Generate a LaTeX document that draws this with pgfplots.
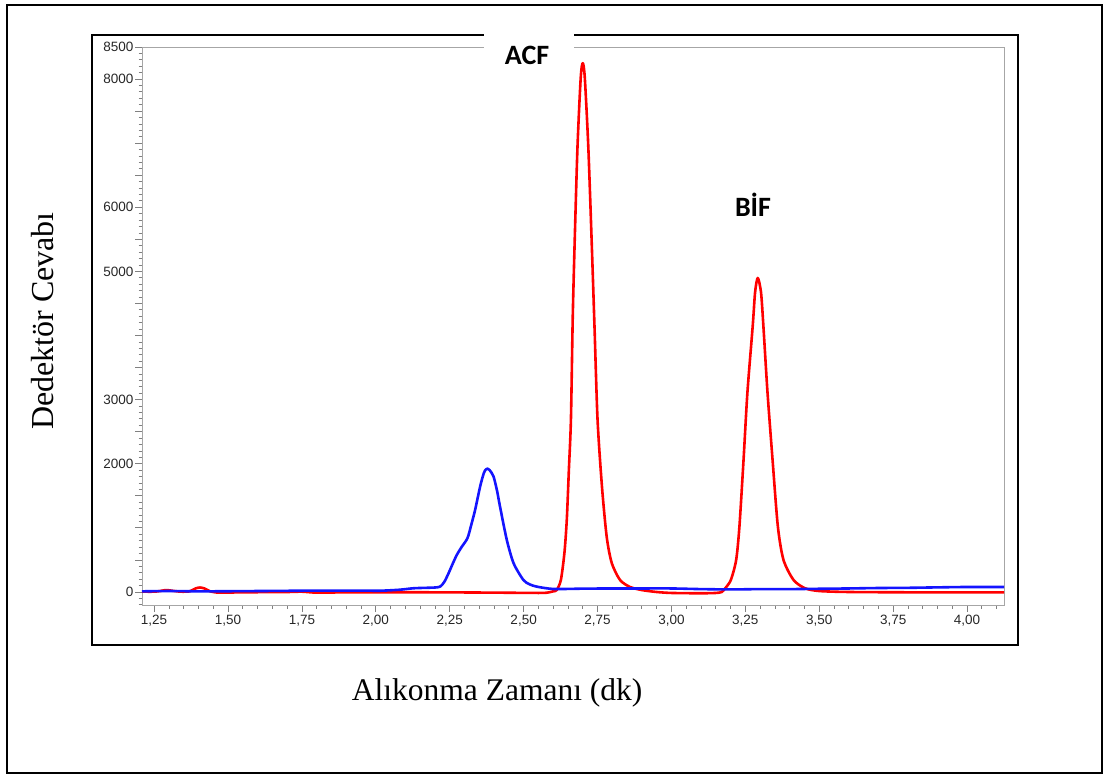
\documentclass[border=0pt]{standalone}
\usepackage{fontspec}
\setmainfont{Liberation Serif}
\newfontfamily\arialf{Liberation Sans}
\newfontfamily\calibrif{Carlito}
\usepackage{pgfplots}
\pgfplotsset{compat=1.18}
\definecolor{cred}{RGB}{255,0,0}
\definecolor{cblue}{RGB}{20,20,255}
\begin{document}
\begin{tikzpicture}
\useasboundingbox (0pt,0pt) rectangle (1104pt,-776pt);
\draw[line width=1.4pt] (7pt,-5pt) rectangle (1102pt,-773pt);
\draw[line width=2pt] (92pt,-35pt) rectangle (1018pt,-645pt);
\begin{axis}[
  anchor=south west, at={(142pt,-605pt)},
  width=862pt, height=558pt, scale only axis,
  xmin=1.209, xmax=4.125, ymin=-203, ymax=8500,
  axis line style={draw=black!35, line width=0.9pt},
  tick align=outside,
  xtick pos=lower, ytick pos=left,
  major tick length=7pt, minor tick length=3.5pt,
  every tick/.style={black!50, line width=0.8pt},
  minor tick style={black!50, line width=0.8pt},
  xtick={1.25,1.5,...,4.0},
  xticklabels={{1,25},{1,50},{1,75},{2,00},{2,25},{2,50},{2,75},{3,00},{3,25},{3,50},{3,75},{4,00}},
  minor xtick={1.25,1.3,...,4.11},
  ytick={0,500,...,8500},
  yticklabels={0,,,,2000,,3000,,,,5000,,6000,,,,8000,8500},
  minor ytick={-200,-100,...,8400},
  ticklabel style={font=\arialf\fontsize{13.5}{15}\selectfont, text=black!85},
  yticklabel style={inner sep=1.5pt},
  xticklabel style={inner sep=3pt},
  xlabel={Alıkonma Zamanı (dk)},
  ylabel={Dedektör Cevabı},
  xlabel style={font=\fontsize{31.5}{36}\selectfont, at={(axis description cs:0.412,-0.158)}, anchor=center},
  ylabel style={font=\fontsize{32}{36}\selectfont, at={(axis description cs:-0.1148,0.509)}, anchor=center},
  every axis plot/.append style={line width=2.6pt, line join=round, smooth, tension=0.45},
]
\addplot[cred] coordinates {
(1.209,5) (1.25,5) (1.27,15) (1.29,30) (1.31,20) (1.34,5) (1.37,10) (1.39,55) (1.405,70) (1.42,55) (1.44,10) (1.47,-10)
(1.55,-5) (1.7,0) (1.75,5) (1.8,-10) (1.9,-5) (2.0,-5) (2.2,-5) (2.4,-10) (2.55,-15) (2.58,-10) (2.60,10)
(2.612,31) (2.626,188) (2.638,610) (2.646,1127) (2.653,1900) (2.660,2692) (2.666,4257) (2.672,5352) (2.682,6917)
(2.693,8013) (2.700,8248) (2.707,8013) (2.719,6917) (2.731,5352) (2.740,4100) (2.750,2692) (2.765,1643) (2.781,861)
(2.798,454) (2.826,188) (2.860,78) (2.90,30) (2.95,0) (3.0,-15) (3.1,-20) (3.15,-15) (3.17,0)
(3.182,58) (3.201,188) (3.219,501) (3.230,1022) (3.244,2066) (3.257,3110) (3.275,4152) (3.283,4675) (3.292,4898)
(3.303,4675) (3.311,4152) (3.325,3110) (3.342,2066) (3.360,1022) (3.379,501) (3.413,188) (3.452,58) (3.50,15)
(3.6,0) (3.8,-5) (4.0,-5) (4.125,-5)
};
\addplot[cblue] coordinates {
(1.209,10) (1.3,15) (1.4,10) (1.5,12) (1.6,15) (1.75,20) (1.85,22) (1.95,22) (2.015,20) (2.08,35) (2.127,58)
(2.17,65) (2.2,70) (2.218,85) (2.232,160) (2.246,292) (2.260,440) (2.274,579) (2.290,700) (2.310,840) (2.323,1050)
(2.336,1283) (2.353,1648) (2.365,1850) (2.372,1910) (2.378,1925) (2.385,1900) (2.398,1804) (2.410,1580) (2.420,1335)
(2.443,814) (2.466,449) (2.499,188) (2.520,120) (2.545,83) (2.601,47) (2.70,52) (2.80,55) (2.90,55) (3.0,55)
(3.1,45) (3.2,40) (3.3,45) (3.4,45) (3.5,50) (3.6,55) (3.7,62) (3.8,65) (3.9,72) (4.0,78) (4.125,78)
};
\end{axis}
\fill[white] (484pt,-28pt) rectangle (574pt,-50pt);
\node[anchor=base, inner sep=0pt, font=\calibrif\bfseries\fontsize{28}{32}\selectfont] at (527pt,-65pt) {ACF};
\node[anchor=base, inner sep=0pt, font=\calibrif\bfseries\fontsize{28}{32}\selectfont] at (753pt,-216.7pt) {BİF};
\end{tikzpicture}
\end{document}
